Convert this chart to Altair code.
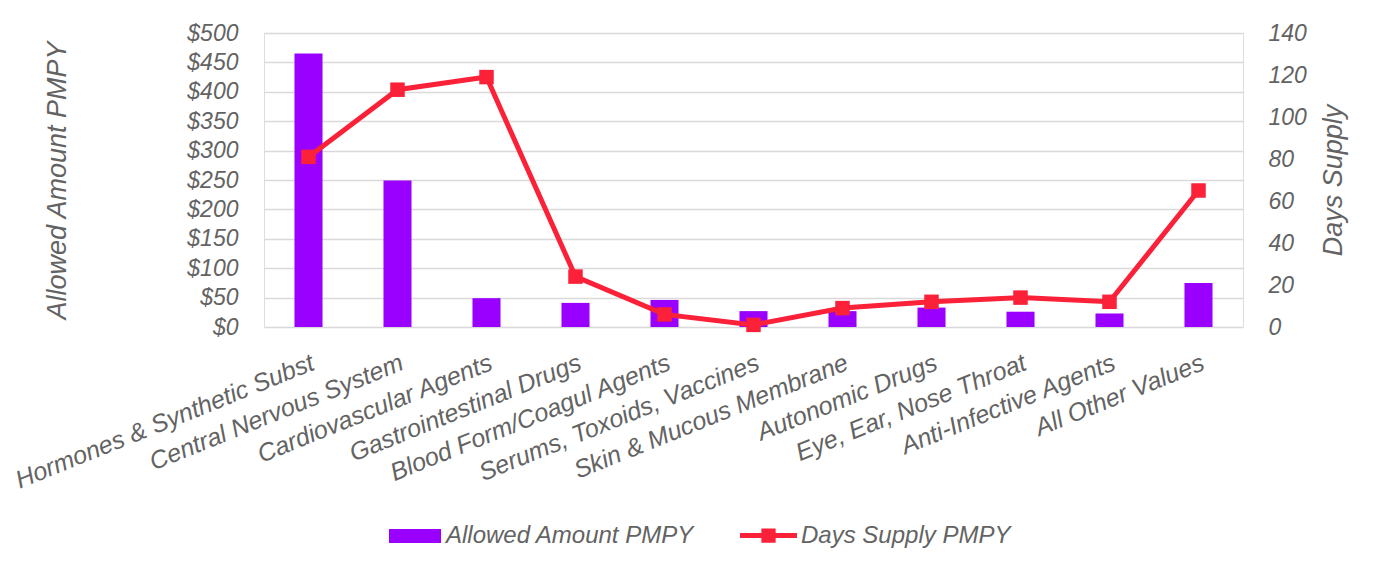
import altair as alt
import pandas as pd

categories = [
    "Hormones & Synthetic Subst",
    "Central Nervous System",
    "Cardiovascular Agents",
    "Gastrointestinal Drugs",
    "Blood Form/Coagul Agents",
    "Serums, Toxoids, Vaccines",
    "Skin & Mucous Membrane",
    "Autonomic Drugs",
    "Eye, Ear, Nose Throat",
    "Anti-Infective Agents",
    "All Other Values",
]
allowed_pmpy = [465, 249, 49, 41, 46, 27, 27, 33, 26, 23, 75]
days_pmpy = [81, 113, 119, 24, 6, 1, 9, 12, 14, 12, 65]
left_ticks = [0, 50, 100, 150, 200, 250, 300, 350, 400, 450, 500]
right_ticks = [0, 20, 40, 60, 80, 100, 120, 140]

bar_name = "Allowed Amount PMPY"
line_name = "Days Supply PMPY"

df = pd.DataFrame({
    "category": categories,
    "allowed": allowed_pmpy,
    "days": days_pmpy,
    "s_bar": bar_name,
    "s_line": line_name,
})

FONT = "Liberation Sans"
GRAY = "#636363"
PURPLE = "#9900ff"
RED = "#fb2138"

x_enc = alt.X(
    "category:N",
    sort=categories,
    scale=alt.Scale(paddingInner=0.685, paddingOuter=0.3425),
    axis=alt.Axis(
        title=None, labelAngle=-22, labelAlign="right", labelBaseline="top",
        labelPadding=23, ticks=False, domain=False, labelLimit=0,
        labelOverlap=False, labelFont=FONT, labelFontSize=25,
        labelFontStyle="italic", labelColor=GRAY,
    ),
)

bars = alt.Chart(df).mark_bar(color=PURPLE).encode(
    x=x_enc,
    y=alt.Y(
        "allowed:Q",
        scale=alt.Scale(domain=[0, 500], nice=False),
        axis=alt.Axis(
            title="Allowed Amount PMPY", orient="left", values=left_ticks,
            format="$,.0f", grid=True, gridColor="#d9d9d9", gridWidth=1.3,
            domain=False, ticks=False, labelPadding=26, labelFont=FONT,
            labelFontSize=23, labelFontStyle="italic", labelColor=GRAY,
            titleFont=FONT, titleFontSize=27, titleFontStyle="italic",
            titleFontWeight="normal", titleColor=GRAY, titlePadding=115,
        ),
    ),
    color=alt.Color(
        "s_bar:N",
        scale=alt.Scale(range=[PURPLE]),
        legend=alt.Legend(
            title=None, orient="none", legendX=125, legendY=477,
            symbolType="M-1,-0.27H1V0.27H-1Z", symbolSize=2704,
            symbolStrokeWidth=0, labelFont=FONT, labelFontSize=24,
            labelFontStyle="italic", labelColor=GRAY, labelOffset=5,
            labelLimit=0,
        ),
    ),
)

y_right = alt.Y(
    "days:Q",
    scale=alt.Scale(domain=[0, 140], nice=False),
    axis=alt.Axis(
        title="Days Supply", orient="right", values=right_ticks,
        grid=False, domain=False, ticks=False, labelPadding=25,
        labelFont=FONT, labelFontSize=23, labelFontStyle="italic",
        labelColor=GRAY, titleFont=FONT, titleFontSize=27,
        titleFontStyle="italic", titleFontWeight="normal", titleColor=GRAY,
        titleAngle=-90, titleBaseline="top", titlePadding=14,
    ),
)

line = alt.Chart(df).mark_line(color=RED, strokeWidth=5).encode(
    x=alt.X("category:N", sort=categories),
    y=y_right,
)

squares = alt.Chart(df).mark_square(size=210, filled=True, opacity=1).encode(
    x=alt.X("category:N", sort=categories),
    y=alt.Y("days:Q"),
    color=alt.Color(
        "s_line:N",
        scale=alt.Scale(range=[RED]),
        legend=alt.Legend(
            title=None, orient="none", legendX=476, legendY=474,
            symbolType="M-1,-0.09H1V0.09H-1Z M-0.25,-0.25H0.25V0.25H-0.25Z",
            symbolSize=3249, symbolStrokeWidth=0, labelFont=FONT,
            labelFontSize=24, labelFontStyle="italic", labelColor=GRAY,
            labelOffset=4, labelLimit=0,
        ),
    ),
)

right_layer = alt.layer(line, squares)

chart = alt.layer(bars, right_layer).resolve_scale(
    y="independent", color="independent"
).properties(
    width=979,
    height=294,
    autosize=alt.AutoSizeParams(type="none"),
    padding={"left": 256, "top": 25, "right": 132, "bottom": 241},
).configure_view(stroke=None).configure(background="white")

chart.save("out.html", embed_options={"renderer": "svg", "actions": False})
